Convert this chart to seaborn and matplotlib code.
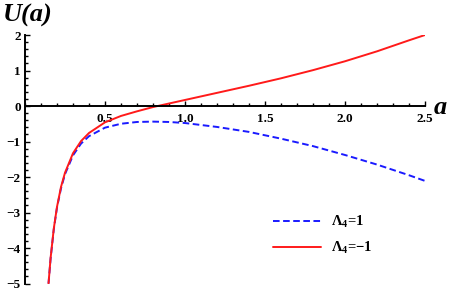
import numpy as np
import pandas as pd
import matplotlib
matplotlib.use("Agg")
import matplotlib.pyplot as plt
from matplotlib.ticker import MultipleLocator, FixedLocator
import seaborn as sns

# ---- data ----
a_vals = [0.147, 0.16, 0.18, 0.2, 0.225, 0.25, 0.3, 0.35, 0.4, 0.5, 0.6, 0.7,
          0.8, 0.9, 1.0, 1.2, 1.4, 1.6, 1.8, 2.0, 2.2, 2.4, 2.5]
u_pos = [-5.0, -4.30, -3.47, -2.86, -2.32, -1.92, -1.39, -1.06, -0.85, -0.61,
         -0.50, -0.45, -0.44, -0.45, -0.48, -0.59, -0.73, -0.92, -1.13, -1.38,
         -1.65, -1.95, -2.11]          # Lambda_4 = 1
u_neg = [-5.0, -4.28, -3.45, -2.84, -2.28, -1.88, -1.33, -0.99, -0.76, -0.46,
         -0.28, -0.15, -0.03, 0.07, 0.17, 0.37, 0.57, 0.78, 1.01, 1.26,
         1.54, 1.85, 2.0]              # Lambda_4 = -1
x_ticks = [0.5, 1.0, 1.5, 2.0, 2.5]
x_tick_labels = ["0.5", "1.0", "1.5", "2.0", "2.5"]
y_ticks = [-5, -4, -3, -2, -1, 0, 1, 2]
y_tick_labels = ["\u22125", "\u22124", "\u22123", "\u22122", "\u22121", "0", "1", "2"]
labels = ["$\\mathbf{\\Lambda_4}$=1", "$\\mathbf{\\Lambda_4}$=\u22121"]

sns.set_theme(style="white")
plt.rcParams["font.family"] = ["Liberation Serif", "DejaVu Serif"]
plt.rcParams["font.weight"] = "bold"
plt.rcParams["text.color"] = "black"
plt.rcParams["xtick.color"] = "black"
plt.rcParams["ytick.color"] = "black"
plt.rcParams["mathtext.fontset"] = "custom"
plt.rcParams["mathtext.rm"] = "Liberation Serif:bold"
plt.rcParams["mathtext.bf"] = "Liberation Serif:bold"
plt.rcParams["mathtext.it"] = "Liberation Serif:italic:bold"

df = pd.DataFrame({"a": a_vals + a_vals,
                   "U": u_pos + u_neg,
                   "case": [labels[0]] * len(a_vals) + [labels[1]] * len(a_vals)})

fig = plt.figure(figsize=(4.49, 2.92), dpi=100)
ax = fig.add_axes([25 / 449, 8.5 / 292, 400 / 449, 248.5 / 292])

sns.lineplot(data=df[df.case == labels[0]], x="a", y="U", ax=ax, color="#1a1aff",
             linewidth=1.4, label=labels[0], sort=False)
sns.lineplot(data=df[df.case == labels[1]], x="a", y="U", ax=ax, color="#ff1a1a",
             linewidth=1.4, label=labels[1], sort=False)
ax.lines[0].set_dashes([3.4, 1.8])

ax.set_xlim(0, 2.5)
ax.set_ylim(-5, 2)
ax.set_xlabel("")
ax.set_ylabel("")

for s in ["top", "right"]:
    ax.spines[s].set_visible(False)
ax.spines["bottom"].set_position(("data", 0))
ax.spines["left"].set_position(("data", 0))
for s in ["bottom", "left"]:
    ax.spines[s].set_color("black")
    ax.spines[s].set_linewidth(1.4)

ax.xaxis.set_major_locator(FixedLocator(x_ticks))
ax.set_xticklabels(x_tick_labels)
ax.xaxis.set_minor_locator(MultipleLocator(0.1))
ax.yaxis.set_major_locator(FixedLocator(y_ticks))
ax.set_yticklabels(y_tick_labels)
ax.yaxis.set_minor_locator(MultipleLocator(0.2))
ax.tick_params(which="both", direction="in", color="black", width=1.0,
               labelsize=9.5, bottom=True, left=True)
ax.tick_params(which="major", length=3.5)
ax.tick_params(which="minor", length=2)
ax.tick_params(axis="x", pad=5)
ax.tick_params(axis="y", pad=3)
for t in ax.get_xticklabels() + ax.get_yticklabels():
    t.set_fontweight("bold")

fig.text(3 / 449, 1 - 15 / 292, "U(a)", fontsize=19, fontweight="bold",
         fontstyle="italic", va="center", ha="left")
fig.text(434 / 449, 1 - 107 / 292, "a", fontsize=19, fontweight="bold",
         fontstyle="italic", va="center", ha="left")

ax.legend(loc="upper left", bbox_to_anchor=(278 / 449, 1 - 210 / 292),
          frameon=False, fontsize=10.5, handlelength=3.3, handletextpad=0.7,
          labelspacing=0.7, borderpad=0, borderaxespad=0)

fig.savefig("out.png", dpi=100)
